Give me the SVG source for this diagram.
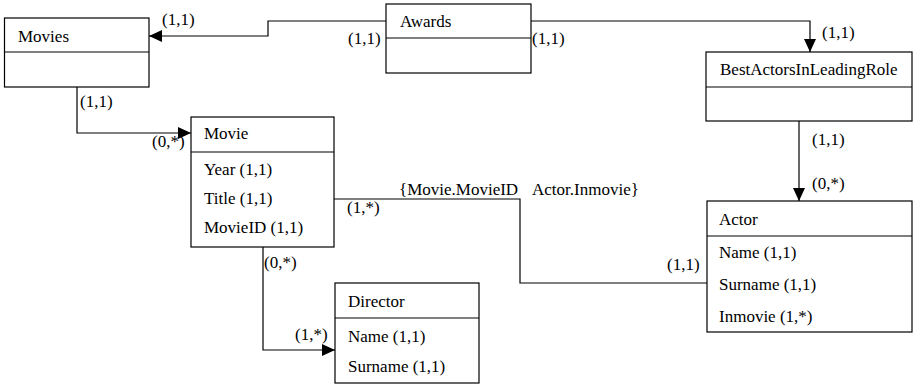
<svg xmlns="http://www.w3.org/2000/svg" width="914" height="387" viewBox="0 0 914 387">
  <style>
    .box { fill: #ffffff; stroke: #000000; stroke-width: 1.2; }
    .div { stroke: #000000; stroke-width: 1.2; }
    .wire { fill: none; stroke: #000000; stroke-width: 1.2; }
  </style>
  <defs>
    <marker id="arrow" viewBox="0 0 13 12" refX="13" refY="6" markerWidth="13" markerHeight="12" markerUnits="userSpaceOnUse" orient="auto">
      <path d="M0,0 L13,6 L0,12 Z" fill="#000000"/>
    </marker>
  </defs>
  <rect width="914" height="387" fill="#ffffff"/>

  <!-- connectors -->
  <g id="connectors">
    <path class="wire" d="M386,21 H268 V36 H149" marker-end="url(#arrow)"/>
    <path class="wire" d="M531,21 H810 V52" marker-end="url(#arrow)"/>
    <path class="wire" d="M77,87 V133 H191" marker-end="url(#arrow)"/>
    <path class="wire" d="M799,121 V201" marker-end="url(#arrow)"/>
    <path class="wire" d="M334,199 H520 V283 H707"/>
    <path class="wire" d="M263,247 V350 H335" marker-end="url(#arrow)"/>
  </g>

  <!-- connector labels -->
  <g id="labels">
    <text x="162" y="25" font-family="'Liberation Serif', serif" font-size="17">(1,1)</text>
    <text x="348" y="44" font-family="'Liberation Serif', serif" font-size="17">(1,1)</text>
    <text x="532" y="44" font-family="'Liberation Serif', serif" font-size="17">(1,1)</text>
    <text x="822" y="38" font-family="'Liberation Serif', serif" font-size="17">(1,1)</text>
    <text x="80" y="107" font-family="'Liberation Serif', serif" font-size="17">(1,1)</text>
    <text x="152" y="147" font-family="'Liberation Serif', serif" font-size="17">(0,*)</text>
    <text x="812" y="145" font-family="'Liberation Serif', serif" font-size="17">(1,1)</text>
    <text x="812" y="189" font-family="'Liberation Serif', serif" font-size="17">(0,*)</text>
    <text x="399" y="195" font-family="'Liberation Serif', serif" font-size="17">{Movie.MovieID</text>
    <text x="532" y="195" font-family="'Liberation Serif', serif" font-size="17">Actor.Inmovie}</text>
    <text x="347" y="213" font-family="'Liberation Serif', serif" font-size="17">(1,*)</text>
    <text x="667" y="270" font-family="'Liberation Serif', serif" font-size="17">(1,1)</text>
    <text x="264" y="268" font-family="'Liberation Serif', serif" font-size="17">(0,*)</text>
    <text x="295" y="340" font-family="'Liberation Serif', serif" font-size="17">(1,*)</text>
  </g>

  <g id="movies">
    <rect class="box" x="4.5" y="18" width="144.5" height="69"/>
    <line class="div" x1="4.5" y1="52" x2="149" y2="52"/>
    <text x="18" y="42" font-family="'Liberation Serif', serif" font-size="17">Movies</text>
  </g>

  <g id="awards">
    <rect class="box" x="386" y="4" width="145" height="69"/>
    <line class="div" x1="386" y1="38" x2="531" y2="38"/>
    <text x="400" y="27" font-family="'Liberation Serif', serif" font-size="17">Awards</text>
  </g>

  <g id="best-actors">
    <rect class="box" x="706" y="52" width="206" height="69"/>
    <line class="div" x1="706" y1="87" x2="912" y2="87"/>
    <text x="720" y="75" font-family="'Liberation Serif', serif" font-size="17">BestActorsInLeadingRole</text>
  </g>

  <g id="movie">
    <rect class="box" x="191" y="117" width="143" height="130"/>
    <line class="div" x1="191" y1="152" x2="334" y2="152"/>
    <text x="204" y="139" font-family="'Liberation Serif', serif" font-size="17">Movie</text>
    <text x="204" y="175" font-family="'Liberation Serif', serif" font-size="17">Year (1,1)</text>
    <text x="204" y="204" font-family="'Liberation Serif', serif" font-size="17">Title (1,1)</text>
    <text x="204" y="233" font-family="'Liberation Serif', serif" font-size="17">MovieID (1,1)</text>
  </g>

  <g id="actor">
    <rect class="box" x="707" y="201" width="205" height="131"/>
    <line class="div" x1="707" y1="236" x2="912" y2="236"/>
    <text x="719" y="225" font-family="'Liberation Serif', serif" font-size="17">Actor</text>
    <text x="719" y="258" font-family="'Liberation Serif', serif" font-size="17">Name (1,1)</text>
    <text x="719" y="290" font-family="'Liberation Serif', serif" font-size="17">Surname (1,1)</text>
    <text x="719" y="322" font-family="'Liberation Serif', serif" font-size="17">Inmovie (1,*)</text>
  </g>

  <g id="director">
    <rect class="box" x="335" y="283" width="144" height="100"/>
    <line class="div" x1="335" y1="318" x2="479" y2="318"/>
    <text x="348" y="307" font-family="'Liberation Serif', serif" font-size="17">Director</text>
    <text x="348" y="342" font-family="'Liberation Serif', serif" font-size="17">Name (1,1)</text>
    <text x="348" y="372" font-family="'Liberation Serif', serif" font-size="17">Surname (1,1)</text>
  </g>
</svg>
